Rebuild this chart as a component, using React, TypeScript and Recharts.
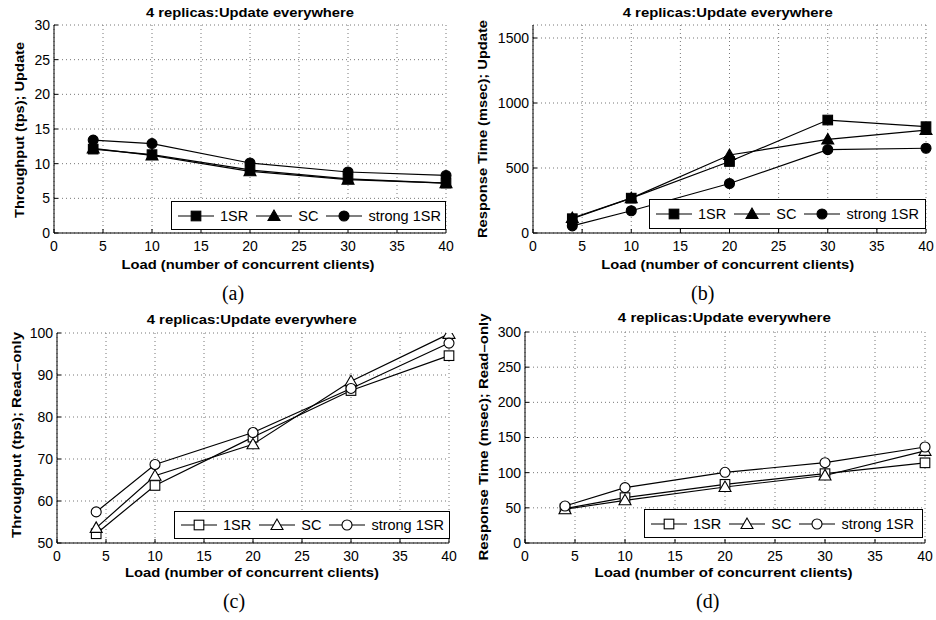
import React from "react";
import { LineChart, Line, XAxis, YAxis, CartesianGrid, Legend } from "recharts";

// x positions (concurrent clients)
const loads = [4, 10, 20, 30, 40];
const xTicks = [0, 5, 10, 15, 20, 25, 30, 35, 40];
const seriesNames = ["1SR", "SC", "strong 1SR"];
const seriesShapes = ["square", "triangle", "circle"];

// (a) throughput, update
const tpUpdate1SR = [12.1, 11.3, 9.1, 7.8, 7.2];
const tpUpdateSC = [12.2, 11.2, 8.9, 7.7, 7.2];
const tpUpdateStrong = [13.4, 12.9, 10.1, 8.8, 8.3];
const tpUpdateTicks = [0, 5, 10, 15, 20, 25, 30];

// (b) response time, update
const rtUpdate1SR = [110, 268, 550, 869, 818];
const rtUpdateSC = [115, 268, 600, 720, 792];
const rtUpdateStrong = [55, 171, 381, 641, 652];
const rtUpdateTicks = [0, 500, 1000, 1500];

// (c) throughput, read-only
const tpRead1SR = [52.2, 63.7, 75.2, 86.3, 94.6];
const tpReadSC = [53.6, 66.0, 73.5, 88.5, 99.8];
const tpReadStrong = [57.4, 68.7, 76.3, 86.8, 97.6];
const tpReadTicks = [50, 60, 70, 80, 90, 100];

// (d) response time, read-only
const rtRead1SR = [48.8, 64.5, 83.4, 98.6, 114];
const rtReadSC = [48, 60.7, 79.6, 96, 131];
const rtReadStrong = [52.6, 78.7, 100.5, 114.2, 136.5];
const rtReadTicks = [0, 50, 100, 150, 200, 250, 300];

const FONT = '"Liberation Sans", Arial, Helvetica, sans-serif';
const TITLE = "4 replicas:Update everywhere";
const XLABEL = "Load (number of concurrent clients)";

const toRows = (s: number[][]) =>
  loads.map((load, i) => ({ load, s0: s[0][i], s1: s[1][i], s2: s[2][i] }));

const panels = [
  {
    id: "a", plot: { l: 54, t: 25, r: 446, b: 233 }, yDomain: [0, 30], yTicks: tpUpdateTicks,
    rows: toRows([tpUpdate1SR, tpUpdateSC, tpUpdateStrong]), filled: true,
    legend: { l: 171, t: 201, r: 446, b: 230 },
    title: { x: 250, y: 16.7, w: 208 }, xl: { x: 248, y: 268.7, w: 253 },
    yl: { x: 24.3, y: 130, w: 176, text: "Throughput (tps); Update" }, cap: { x: 233, y: 300, text: "(a)" },
  },
  {
    id: "b", plot: { l: 533, t: 25, r: 926, b: 233 }, yDomain: [0, 1600], yTicks: rtUpdateTicks,
    rows: toRows([rtUpdate1SR, rtUpdateSC, rtUpdateStrong]), filled: true,
    legend: { l: 649, t: 199, r: 926, b: 229 },
    title: { x: 727.7, y: 16.7, w: 210 }, xl: { x: 727.7, y: 268.7, w: 253 },
    yl: { x: 487.3, y: 129, w: 218, text: "Response Time (msec); Update" }, cap: { x: 702.7, y: 300, text: "(b)" },
  },
  {
    id: "c", plot: { l: 57, t: 333, r: 449, b: 543 }, yDomain: [50, 100], yTicks: tpReadTicks,
    rows: toRows([tpRead1SR, tpReadSC, tpReadStrong]), filled: false,
    legend: { l: 174, t: 511, r: 450, b: 539 },
    title: { x: 251.7, y: 324.3, w: 210 }, xl: { x: 252, y: 577.3, w: 254 },
    yl: { x: 20.7, y: 435, w: 206, text: "Throughput (tps); Read\u2013only" }, cap: { x: 234, y: 608, text: "(c)" },
  },
  {
    id: "d", plot: { l: 525, t: 332, r: 925, b: 543 }, yDomain: [0, 300], yTicks: rtReadTicks,
    rows: toRows([rtRead1SR, rtReadSC, rtReadStrong]), filled: false,
    legend: { l: 644, t: 509, r: 923, b: 538 },
    title: { x: 724.3, y: 321.7, w: 213 }, xl: { x: 723.5, y: 577.3, w: 258 },
    yl: { x: 487.7, y: 437, w: 247, text: "Response Time (msec); Read\u2013only" }, cap: { x: 707.7, y: 608, text: "(d)" },
  },
];

function Marker({ cx, cy, shape, filled }: { cx: number; cy: number; shape: string; filled: boolean }) {
  const fill = filled ? "#000" : "#fff";
  const common = { fill, stroke: "#000", strokeWidth: 1.1 };
  if (shape === "square") return <rect x={cx - 4.8} y={cy - 4.8} width={9.6} height={9.6} {...common} />;
  if (shape === "triangle")
    return <polygon points={`${cx},${cy - 6} ${cx - 6},${cy + 4.5} ${cx + 6},${cy + 4.5}`} {...common} />;
  return <circle cx={cx} cy={cy} r={5} {...common} />;
}

function LegendBox({ filled }: { filled: boolean }) {
  return (
    <div
      style={{
        boxSizing: "border-box", width: "100%", height: "100%", border: "1px solid #000", background: "#fff",
        display: "flex", alignItems: "center", paddingLeft: 6, fontFamily: FONT, fontSize: 14.5, color: "#000",
      }}
    >
      {seriesNames.map((name, i) => (
        <div key={name} style={{ display: "flex", alignItems: "center", marginRight: 8 }}>
          <svg width={36} height={14} style={{ overflow: "visible" }}>
            <line x1={0} y1={7} x2={36} y2={7} stroke="#000" strokeWidth={1.2} />
            <Marker cx={18} cy={7} shape={seriesShapes[i]} filled={filled} />
          </svg>
          <span style={{ marginLeft: 6, whiteSpace: "nowrap" }}>{name}</span>
        </div>
      ))}
    </div>
  );
}

function Panel({ p }: { p: (typeof panels)[number] }) {
  const yw = 40;
  const xh = 30;
  const m = 10;
  const mr = 10;
  const left = p.plot.l - yw;
  const top = p.plot.t - m;
  const width = p.plot.r + mr - left;
  const height = p.plot.b + xh - top;
  const tickStyle = { fill: "#000", fontSize: 14, fontFamily: FONT };
  return (
    <div style={{ position: "absolute", left, top, width, height }}>
      <LineChart width={width} height={height} data={p.rows} margin={{ top: m, right: mr, left: 0, bottom: 0 }}>
        <CartesianGrid stroke="#777" strokeDasharray="1 3" />
        <XAxis
          dataKey="load" type="number" domain={[0, 40]} ticks={xTicks} height={xh}
          tick={tickStyle} tickSize={-4} tickMargin={12} stroke="#000" interval={0}
        />
        <XAxis xAxisId="top" orientation="top" dataKey="load" type="number" domain={[0, 40]} ticks={xTicks}
          height={0} tick={false} tickSize={-4} stroke="#000" />
        <YAxis
          type="number" domain={p.yDomain} ticks={p.yTicks} width={yw} tick={tickStyle}
          tickSize={-4} tickMargin={8} stroke="#000" interval={0} allowDataOverflow
        />
        <YAxis yAxisId="right" orientation="right" type="number" domain={p.yDomain} ticks={p.yTicks}
          width={0} tick={false} tickSize={-4} stroke="#000" />
        {seriesNames.map((name, i) => (
          <Line
            key={name} dataKey={`s${i}`} name={name} stroke="#000" strokeWidth={1.2}
            isAnimationActive={false}
            dot={(d: any) => (
              <Marker key={`${name}-${d.index}`} cx={d.cx} cy={d.cy} shape={seriesShapes[i]} filled={p.filled} />
            )}
          />
        ))}
        <Legend
          layout="horizontal" verticalAlign="middle" align="center"
          wrapperStyle={{
            left: p.legend.l - left, top: p.legend.t - top,
            width: p.legend.r - p.legend.l, height: p.legend.b - p.legend.t,
          }}
          content={() => <LegendBox filled={p.filled} />}
        />
      </LineChart>
    </div>
  );
}

export default function App() {
  return (
    <div style={{ position: "absolute", left: 0, top: 0, width: 936, height: 620, background: "#fff" }}>
      {panels.map((p) => (
        <Panel key={p.id} p={p} />
      ))}
      <svg width={936} height={620} style={{ position: "absolute", left: 0, top: 0, pointerEvents: "none" }}>
        {panels.map((p) => (
          <g key={p.id} fill="#000">
            <text x={p.title.x} y={p.title.y} textAnchor="middle" fontFamily={FONT} fontWeight="bold"
              fontSize={12.5} textLength={p.title.w} lengthAdjust="spacingAndGlyphs">{TITLE}</text>
            <text x={p.xl.x} y={p.xl.y} textAnchor="middle" fontFamily={FONT} fontWeight="bold"
              fontSize={13} textLength={p.xl.w} lengthAdjust="spacingAndGlyphs">{XLABEL}</text>
            <text x={p.yl.x} y={p.yl.y} transform={`rotate(-90 ${p.yl.x} ${p.yl.y})`} textAnchor="middle"
              fontFamily={FONT} fontWeight="bold" fontSize={13} textLength={p.yl.w}
              lengthAdjust="spacingAndGlyphs">{p.yl.text}</text>
            <text x={p.cap.x} y={p.cap.y} textAnchor="middle" fontFamily='"Liberation Serif", "DejaVu Serif", serif'
              fontSize={20}>{p.cap.text}</text>
          </g>
        ))}
      </svg>
    </div>
  );
}
